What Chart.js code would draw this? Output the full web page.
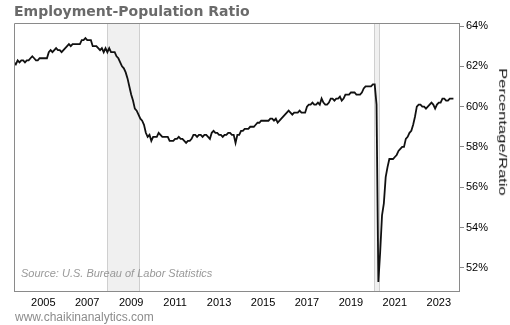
<!DOCTYPE html>
<html><head><meta charset="utf-8">
<script src="https://cdn.jsdelivr.net/npm/chart.js@4.4.0/dist/chart.umd.min.js"></script>
<style>
html,body{margin:0;padding:0;background:#fff;}
#wrap{position:relative;width:510px;height:325px;overflow:hidden;background:#fff;}
canvas{position:absolute;left:0;top:0;}
.t{position:absolute;white-space:nowrap;}
</style></head><body>
<div id="wrap">
<canvas id="c" width="510" height="325"></canvas>
<div class="t" style="left:14px;top:4px;font:bold 14px/14px 'DejaVu Sans';color:#6a6a6a;">Employment-Population Ratio</div>
<div class="t" style="left:21px;top:268px;font:italic 11px/11px 'Liberation Sans';color:#999;">Source: U.S. Bureau of Labor Statistics</div>
<div class="t" style="left:15px;top:311px;font:12px/12px 'Liberation Sans';color:#8c8c8c;">www.chaikinanalytics.com</div>
<div class="t" style="left:503px;top:132px;font:16.5px/16.5px 'Liberation Sans';color:#111;transform:translate(-50%,-50%) rotate(90deg) scaleY(0.66);">Percentage/Ratio</div>
</div>
<script>
// ---- data (monthly, seasonally adjusted, %) ----
const startYear = 2003;
const startMonth = 9;
const v2003 = [62.2, 62.1, 62.3, 62.2];
const v2004 = [62.3, 62.3, 62.2, 62.3, 62.3, 62.4, 62.5, 62.4, 62.3, 62.3, 62.4, 62.4];
const v2005 = [62.4, 62.4, 62.4, 62.7, 62.8, 62.7, 62.8, 62.9, 62.8, 62.8, 62.7, 62.8];
const v2006 = [62.9, 63.0, 63.1, 63.0, 63.1, 63.1, 63.1, 63.1, 63.1, 63.3, 63.3, 63.4];
const v2007 = [63.3, 63.3, 63.3, 63.0, 63.0, 63.0, 62.9, 62.8, 62.9, 62.7, 62.9, 62.7];
const v2008 = [62.9, 62.7, 62.7, 62.7, 62.5, 62.4, 62.2, 62.0, 61.9, 61.7, 61.4, 61.0];
const v2009 = [60.6, 60.3, 59.9, 59.8, 59.6, 59.4, 59.3, 59.1, 58.7, 58.5, 58.6, 58.3];
const v2010 = [58.5, 58.5, 58.5, 58.7, 58.6, 58.5, 58.5, 58.5, 58.5, 58.3, 58.3, 58.3];
const v2011 = [58.4, 58.4, 58.5, 58.4, 58.4, 58.3, 58.2, 58.3, 58.3, 58.4, 58.6, 58.6];
const v2012 = [58.5, 58.6, 58.6, 58.5, 58.6, 58.6, 58.5, 58.4, 58.7, 58.8, 58.7, 58.7];
const v2013 = [58.6, 58.6, 58.5, 58.6, 58.6, 58.7, 58.7, 58.6, 58.6, 58.2, 58.6, 58.6];
const v2014 = [58.8, 58.8, 58.9, 58.9, 58.9, 59.0, 59.0, 59.0, 59.1, 59.2, 59.2, 59.3];
const v2015 = [59.3, 59.3, 59.3, 59.3, 59.4, 59.4, 59.3, 59.4, 59.2, 59.3, 59.4, 59.5];
const v2016 = [59.6, 59.7, 59.8, 59.7, 59.6, 59.7, 59.7, 59.7, 59.8, 59.7, 59.7, 59.7];
const v2017 = [60.0, 60.1, 60.1, 60.2, 60.1, 60.1, 60.2, 60.1, 60.4, 60.2, 60.1, 60.1];
const v2018 = [60.2, 60.4, 60.4, 60.3, 60.4, 60.4, 60.5, 60.3, 60.4, 60.6, 60.6, 60.6];
const v2019 = [60.7, 60.7, 60.7, 60.6, 60.6, 60.6, 60.7, 60.9, 61.0, 61.0, 61.0, 61.0];
const v2020 = [61.1, 61.1, 60.1, 51.3, 52.8, 54.6, 55.2, 56.5, 57.0, 57.4, 57.4, 57.4];
const v2021 = [57.5, 57.6, 57.8, 57.9, 58.0, 58.0, 58.4, 58.5, 58.7, 58.8, 59.1, 59.5];
const v2022 = [60.0, 60.1, 60.1, 60.0, 60.0, 59.9, 60.0, 60.1, 60.2, 60.1, 59.9, 60.1];
const v2023 = [60.2, 60.2, 60.4, 60.4, 60.3, 60.3, 60.4, 60.4, 60.4];
const yearlyValues = [v2003, v2004, v2005, v2006, v2007, v2008, v2009, v2010, v2011, v2012,
  v2013, v2014, v2015, v2016, v2017, v2018, v2019, v2020, v2021, v2022, v2023];

const recessionStarts = [2007.88, 2020.07];
const recessionEnds = [2009.37, 2020.30];

const xTickYears = [2005, 2007, 2009, 2011, 2013, 2015, 2017, 2019, 2021, 2023];
const yTickValues = [52, 54, 56, 58, 60, 62, 64];
const xMin = 2003.667, xMax = 2023.92;
const yMin = 50.85, yMax = 64.15;

// build points
const points = [];
yearlyValues.forEach((arr, i) => {
  const yr = startYear + i;
  const m0 = (i === 0) ? startMonth : 1;
  arr.forEach((v, j) => points.push({x: yr + (m0 - 1 + j) / 12, y: v}));
});

const shadePlugin = {
  id: 'shade',
  beforeDatasetsDraw(chart) {
    const {ctx, chartArea: a, scales: {x}} = chart;
    ctx.save();
    recessionStarts.forEach((s, i) => {
      const x0 = Math.round(x.getPixelForValue(s)) + 0.5;
      const x1 = Math.round(x.getPixelForValue(recessionEnds[i])) + 0.5;
      ctx.fillStyle = '#f0f0f0';
      ctx.fillRect(x0, a.top, x1 - x0, a.bottom - a.top);
      ctx.strokeStyle = '#cfcfcf';
      ctx.lineWidth = 1;
      ctx.beginPath();
      ctx.moveTo(x0, a.top); ctx.lineTo(x0, a.bottom);
      ctx.moveTo(x1, a.top); ctx.lineTo(x1, a.bottom);
      ctx.stroke();
    });
    ctx.restore();
  },
  afterDraw(chart) {
    const {ctx, chartArea: a} = chart;
    ctx.save();
    ctx.strokeStyle = '#8a8a8a';
    ctx.lineWidth = 1;
    ctx.beginPath();
    ctx.moveTo(Math.round(a.left) + 0.5, a.bottom);
    ctx.lineTo(Math.round(a.left) + 0.5, Math.round(a.top) + 0.5);
    ctx.lineTo(a.right, Math.round(a.top) + 0.5);
    ctx.stroke();
    ctx.restore();
  }
};

new Chart(document.getElementById('c'), {
  type: 'line',
  data: {datasets: [{
    data: points,
    borderColor: '#111',
    borderWidth: 1.8,
    pointRadius: 0,
    tension: 0,
    fill: false
  }]},
  options: {
    responsive: false,
    animation: false,
    events: [],
    layout: {padding: {left: 14, top: 23, right: 0, bottom: 0}},
    plugins: {legend: {display: false}, tooltip: {enabled: false}, title: {display: false}},
    scales: {
      x: {
        type: 'linear', min: xMin, max: xMax,
        afterBuildTicks: s => { s.ticks = xTickYears.map(v => ({value: v})); },
        afterFit: s => { s.height = 34; },
        ticks: {callback: v => String(v), color: '#000', font: {family: 'Liberation Sans', size: 11}, padding: 5, maxRotation: 0, autoSkip: false},
        grid: {display: true, drawOnChartArea: false, drawTicks: false},
        border: {color: '#8a8a8a', width: 1}
      },
      y: {
        type: 'linear', position: 'right', min: yMin, max: yMax,
        afterBuildTicks: s => { s.ticks = yTickValues.map(v => ({value: v})); },
        afterFit: s => { s.width = 51; },
        ticks: {callback: v => v + '%', color: '#000', font: {family: 'Liberation Sans', size: 11}, padding: 2},
        grid: {display: true, drawOnChartArea: false, drawTicks: true, tickLength: 5, color: '#8a8a8a'},
        border: {color: '#8a8a8a', width: 1}
      }
    }
  },
  plugins: [shadePlugin]
});
</script>
</body></html>
